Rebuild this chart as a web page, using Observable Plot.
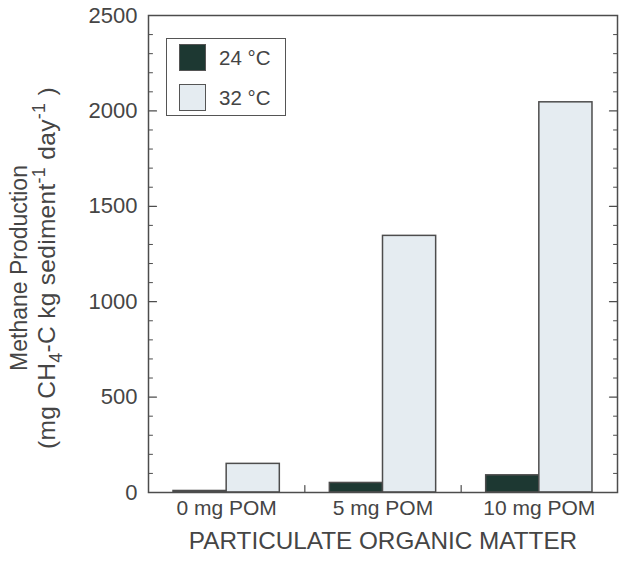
<!DOCTYPE html>
<html>
<head>
<meta charset="utf-8">
<script src="https://cdn.jsdelivr.net/npm/d3@7"></script>
<script src="https://cdn.jsdelivr.net/npm/@observablehq/plot@0.6"></script>
<style>
  body { margin: 0; background: #fff; }
  #chart { position: relative; width: 620px; height: 561px; font-family: "Liberation Sans", Arial, sans-serif; }
  #chart svg { display: block; }
  .legend {
    position: absolute; left: 166px; top: 38px; width: 120px; height: 78px;
    box-sizing: border-box; border: 1.5px solid #555; background: #fff;
    font-size: 20.5px; color: #444;
  }
  .legend .item { position: absolute; left: 12px; display: flex; align-items: center; }
  .legend .sw { width: 27px; height: 27px; box-sizing: border-box; border: 1.5px solid #555; margin-right: 13px; }
</style>
</head>
<body>
<div id="chart"></div>
<script>
// Methane production by particulate organic matter dose and incubation temperature
const groups = ["0 mg POM", "5 mg POM", "10 mg POM"];
const temps = ["24 °C", "32 °C"];
const methane24 = [8, 50, 90];
const methane32 = [150, 1345, 2045];
const yTicks = [0, 500, 1000, 1500, 2000, 2500];
const yMinor = d3.range(0, 2501, 100).filter(v => v % 500 !== 0);
const colors = ["#1d3832", "#e5ecf1"];

const rows = groups.flatMap((g, gi) => [
  {group: g, gi, temp: temps[0], ti: 0, value: methane24[gi]},
  {group: g, gi, temp: temps[1], ti: 1, value: methane32[gi]}
]);

// bar width in group units (one group spans 1 unit on x)
const bw = 0.34;
const ink = "#4d4d4d";
const textColor = "#454545";

// a plain line used for the inward-pointing ticks
const tickLine = {draw(context, l) { context.moveTo(0, 0); context.lineTo(0, -l); }};

const plot = Plot.plot({
  width: 620,
  height: 561,
  marginLeft: 148,
  marginRight: 3,
  marginTop: 15,
  marginBottom: 69,
  style: {fontFamily: "'Liberation Sans', Arial, sans-serif", color: textColor, background: "#fff"},
  x: {type: "linear", domain: [-0.5, 2.5], axis: null},
  y: {domain: [0, 2500], axis: null},
  color: {domain: temps, range: colors},
  marks: [
    Plot.rectY(rows, {
      x1: d => d.gi + (d.ti - 1) * bw,
      x2: d => d.gi + d.ti * bw,
      y: "value",
      fill: "temp",
      stroke: ink,
      strokeWidth: 1.5
    }),
    // y ticks, left and right sides, pointing inward
    Plot.vector(yTicks, {y: d => d, frameAnchor: "left", rotate: 90, length: 8, anchor: "start", shape: tickLine, stroke: ink, strokeWidth: 1.2}),
    Plot.vector(yMinor, {y: d => d, frameAnchor: "left", rotate: 90, length: 4, anchor: "start", shape: tickLine, stroke: ink, strokeWidth: 1}),
    Plot.vector(yTicks, {y: d => d, frameAnchor: "right", rotate: -90, length: 8, anchor: "start", shape: tickLine, stroke: ink, strokeWidth: 1.2}),
    Plot.vector(yMinor, {y: d => d, frameAnchor: "right", rotate: -90, length: 4, anchor: "start", shape: tickLine, stroke: ink, strokeWidth: 1}),
    // group separators on the bottom edge
    Plot.vector([0.5, 1.5], {x: d => d, frameAnchor: "bottom", rotate: 0, length: 7, anchor: "start", shape: tickLine, stroke: ink, strokeWidth: 1.2}),
    Plot.frame({stroke: ink, strokeWidth: 1.5}),
    // tick labels
    Plot.text(yTicks, {y: d => d, text: d => String(d), frameAnchor: "left", dx: -11, textAnchor: "end", fontSize: 22, fill: textColor}),
    Plot.text(groups, {x: (d, i) => i, text: d => d, frameAnchor: "bottom", dy: 22, fontSize: 21, fill: textColor}),
    Plot.text(["PARTICULATE ORGANIC MATTER"], {text: d => d, frameAnchor: "bottom", dy: 56, fontSize: 24.3, fill: textColor})
  ]
});

const chart = document.getElementById("chart");
chart.appendChild(plot);

// two-line y-axis title with subscript and superscripts
const svg = d3.select(plot);
const cy = 268;
svg.append("text")
  .attr("transform", `translate(27,${cy}) rotate(-90)`)
  .attr("text-anchor", "middle")
  .attr("font-size", 23)
  .attr("fill", textColor)
  .text("Methane Production");
const t2 = svg.append("text")
  .attr("transform", `translate(55,${cy}) rotate(-90)`)
  .attr("text-anchor", "middle")
  .attr("font-size", 24.5)
  .attr("letter-spacing", 0.3)
  .attr("fill", textColor);
t2.append("tspan").text("(mg CH");
t2.append("tspan").attr("font-size", 18).attr("dy", 7).text("4");
t2.append("tspan").attr("dy", -7).text("-C kg sediment");
t2.append("tspan").attr("font-size", 18).attr("dy", -10).text("-1");
t2.append("tspan").attr("dy", 10).text(" day");
t2.append("tspan").attr("font-size", 18).attr("dy", -10).text("-1");
t2.append("tspan").attr("dy", 10).text(" )");

// legend box inside the plot
const legend = document.createElement("div");
legend.className = "legend";
temps.forEach((t, i) => {
  const item = document.createElement("div");
  item.className = "item";
  item.style.top = (i === 0 ? 5 : 45) + "px";
  const sw = document.createElement("div");
  sw.className = "sw";
  sw.style.background = colors[i];
  const label = document.createElement("span");
  label.textContent = t;
  item.appendChild(sw);
  item.appendChild(label);
  legend.appendChild(item);
});
chart.appendChild(legend);
</script>
</body>
</html>
